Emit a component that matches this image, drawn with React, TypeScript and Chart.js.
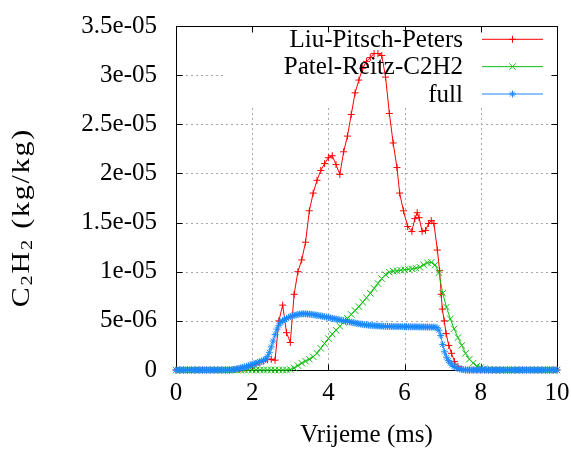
import React, { useEffect, useRef } from 'react';
import { Chart, registerables } from 'chart.js';

Chart.register(...registerables);

// ---------------- data ----------------
const xTickLabels = ['0', '2', '4', '6', '8', '10'];
const yTickLabels = ['0', '5e-06', '1e-05', '1.5e-05', '2e-05', '2.5e-05', '3e-05', '3.5e-05'];
const seriesNames = ['Liu-Pitsch-Peters', 'Patel-Reitz-C2H2', 'full'];
const xTitle = 'Vrijeme (ms)';

// time in ms; C2H2 mass fraction in units of 1e-6 kg/kg
const liuTime = [
  0, 0.1, 0.2, 0.3, 0.4, 0.5, 0.6, 0.7, 0.8, 0.9,
  1.0, 1.1, 1.2, 1.3, 1.4, 1.5, 1.6, 1.7, 1.8, 1.9,
  2.0, 2.1, 2.2, 2.3, 2.4, 2.5, 2.6, 2.7, 2.8, 2.9,
  3.0, 3.1, 3.2, 3.3, 3.4, 3.5, 3.6, 3.7, 3.8, 3.9,
  4.0, 4.1, 4.2, 4.3, 4.4, 4.5, 4.6, 4.7, 4.8, 4.9,
  5.0, 5.1, 5.2, 5.3, 5.4, 5.5, 5.6, 5.7, 5.8, 5.87,
  5.97, 6.08, 6.19, 6.27, 6.33, 6.38, 6.46, 6.55, 6.63, 6.7,
  6.77, 6.86, 6.92, 6.96, 6.99, 7.04, 7.09, 7.16, 7.23, 7.31,
  7.4, 7.5, 7.6, 7.7, 7.8, 7.9, 8.0, 8.1, 8.2, 8.3,
  8.4, 8.5, 8.6, 8.7, 8.8, 8.9, 9.0, 9.1, 9.2, 9.3,
  9.4, 9.5, 9.6, 9.7, 9.8, 9.9, 10.0,
];
const liuValue = [
  0, 0, 0, 0, 0, 0, 0, 0, 0, 0,
  0, 0, 0, 0, 0, 0.03, 0.08, 0.13, 0.2, 0.3,
  0.45, 0.6, 0.75, 0.9, 1.05, 1.1, 1.0, 5.0, 6.6, 3.8,
  2.8, 7.7, 10.0, 11.2, 13.0, 16.2, 18.0, 19.3, 20.3, 21.0,
  21.6, 21.8, 20.9, 19.9, 22.2, 23.8, 26.0, 28.2, 29.5, 30.7,
  31.4, 31.8, 32.2, 32.2, 32.0, 29.8, 26.1, 23.1, 20.6, 18.0,
  16.2, 14.6, 14.1, 15.4, 16.0, 15.5, 14.1, 14.2, 14.9, 15.2,
  14.9, 12.2, 10.1, 7.7, 6.2, 5.0, 3.7, 2.5, 1.7, 0.85,
  0.35, 0.1, 0, 0, 0, 0, 0, 0, 0, 0,
  0, 0, 0, 0, 0, 0, 0, 0, 0, 0,
  0, 0, 0, 0, 0, 0, 0,
];

const patelTime = [
  0, 0.1, 0.2, 0.3, 0.4, 0.5, 0.6, 0.7, 0.8, 0.9,
  1.0, 1.1, 1.2, 1.3, 1.4, 1.5, 1.6, 1.7, 1.8, 1.9,
  2.0, 2.1, 2.2, 2.3, 2.4, 2.5, 2.6, 2.7, 2.8, 2.9,
  3.0, 3.1, 3.2, 3.3, 3.4, 3.5, 3.6, 3.7, 3.8, 3.9,
  4.0, 4.1, 4.2, 4.3, 4.4, 4.5, 4.6, 4.7, 4.8, 4.9,
  5.0, 5.1, 5.2, 5.3, 5.4, 5.5, 5.6, 5.7, 5.8, 5.9,
  6.0, 6.1, 6.2, 6.3, 6.4, 6.5, 6.6, 6.7, 6.8, 6.9,
  7.0, 7.1, 7.2, 7.3, 7.4, 7.5, 7.6, 7.7, 7.8, 7.9,
  8.0, 8.1, 8.2, 8.3, 8.4, 8.5, 8.6, 8.7, 8.8, 8.9,
  9.0, 9.1, 9.2, 9.3, 9.4, 9.5, 9.6, 9.7, 9.8, 9.9,
  10.0,
];
const patelValue = [
  0, 0, 0, 0, 0, 0, 0, 0, 0, 0,
  0, 0, 0, 0, 0, 0, 0, 0, 0, 0,
  0, 0, 0, 0, 0, 0, 0, 0, 0, 0,
  0.05, 0.2, 0.45, 0.7, 0.9, 1.1, 1.35, 1.7, 2.2, 2.7,
  3.2, 3.65, 4.05, 4.45, 4.85, 5.25, 5.65, 6.05, 6.45, 6.9,
  7.35, 7.8, 8.3, 8.8, 9.3, 9.7, 9.95, 10.05, 10.1, 10.15,
  10.2, 10.25, 10.3, 10.35, 10.45, 10.7, 10.9, 10.95, 10.7, 9.9,
  7.8, 6.4, 5.2, 4.2, 3.3, 2.5, 1.7, 1.1, 0.7, 0.4,
  0.25, 0.12, 0.05, 0, 0, 0, 0, 0, 0, 0,
  0, 0, 0, 0, 0, 0, 0, 0, 0, 0,
  0,
];

const fullTime = [
  0, 0.05, 0.1, 0.15, 0.2, 0.25, 0.3, 0.35, 0.4, 0.45,
  0.5, 0.55, 0.6, 0.65, 0.7, 0.75, 0.8, 0.85, 0.9, 0.95,
  1, 1.05, 1.1, 1.15, 1.2, 1.25, 1.3, 1.35, 1.4, 1.45,
  1.5, 1.55, 1.6, 1.65, 1.7, 1.75, 1.8, 1.85, 1.9, 1.95,
  2, 2.05, 2.1, 2.15, 2.2, 2.25, 2.3, 2.35, 2.4, 2.45,
  2.5, 2.55, 2.6, 2.65, 2.7, 2.75, 2.8, 2.85, 2.9, 2.95,
  3, 3.05, 3.1, 3.15, 3.2, 3.25, 3.3, 3.35, 3.4, 3.45,
  3.5, 3.55, 3.6, 3.65, 3.7, 3.75, 3.8, 3.85, 3.9, 3.95,
  4, 4.05, 4.1, 4.15, 4.2, 4.25, 4.3, 4.35, 4.4, 4.45,
  4.5, 4.55, 4.6, 4.65, 4.7, 4.75, 4.8, 4.85, 4.9, 4.95,
  5, 5.05, 5.1, 5.15, 5.2, 5.25, 5.3, 5.35, 5.4, 5.45,
  5.5, 5.55, 5.6, 5.65, 5.7, 5.75, 5.8, 5.85, 5.9, 5.95,
  6, 6.05, 6.1, 6.15, 6.2, 6.25, 6.3, 6.35, 6.4, 6.45,
  6.5, 6.55, 6.6, 6.65, 6.7, 6.75, 6.8, 6.85, 6.9, 6.95,
  7, 7.05, 7.1, 7.15, 7.2, 7.25, 7.3, 7.35, 7.4, 7.45,
  7.5, 7.55, 7.6, 7.65, 7.7, 7.75, 7.8, 7.85, 7.9, 7.95,
  8, 8.05, 8.1, 8.15, 8.2, 8.25, 8.3, 8.35, 8.4, 8.45,
  8.5, 8.55, 8.6, 8.65, 8.7, 8.75, 8.8, 8.85, 8.9, 8.95,
  9, 9.05, 9.1, 9.15, 9.2, 9.25, 9.3, 9.35, 9.4, 9.45,
  9.5, 9.55, 9.6, 9.65, 9.7, 9.75, 9.8, 9.85, 9.9, 9.95,
  10,
];
const fullValue = [
  0, 0, 0, 0, 0, 0, 0, 0, 0, 0,
  0, 0, 0, 0, 0, 0, 0, 0, 0, 0,
  0, 0, 0, 0, 0, 0, 0, 0, 0, 0.02,
  0.05, 0.08, 0.12, 0.17, 0.22, 0.27, 0.32, 0.37, 0.43, 0.5,
  0.57, 0.63, 0.69, 0.76, 0.83, 0.9, 0.98, 1.1, 1.35, 1.8,
  2.35, 2.95, 3.6, 4.15, 4.55, 4.85, 5.0, 5.15, 5.25, 5.35,
  5.45, 5.5, 5.56, 5.6, 5.65, 5.69, 5.71, 5.72, 5.71, 5.7,
  5.68, 5.66, 5.63, 5.6, 5.57, 5.53, 5.5, 5.46, 5.42, 5.38,
  5.34, 5.3, 5.26, 5.22, 5.18, 5.14, 5.1, 5.06, 5.02, 4.98,
  4.94, 4.9, 4.86, 4.82, 4.78, 4.74, 4.7, 4.67, 4.64, 4.61,
  4.58, 4.56, 4.54, 4.52, 4.5, 4.49, 4.48, 4.47, 4.46, 4.45,
  4.44, 4.44, 4.43, 4.43, 4.42, 4.42, 4.42, 4.41, 4.41, 4.41,
  4.4, 4.4, 4.4, 4.4, 4.39, 4.39, 4.39, 4.39, 4.38, 4.38,
  4.38, 4.37, 4.37, 4.37, 4.36, 4.36, 4.35, 4.3, 4.05, 3.5,
  2.6, 1.85, 1.3, 0.95, 0.7, 0.5, 0.36, 0.25, 0.17, 0.11,
  0.06, 0.03, 0.01, 0, 0, 0, 0, 0, 0, 0,
  0, 0, 0, 0, 0, 0, 0, 0, 0, 0,
  0, 0, 0, 0, 0, 0, 0, 0, 0, 0,
  0, 0, 0, 0, 0, 0, 0, 0, 0, 0,
  0, 0, 0, 0, 0, 0, 0, 0, 0, 0,
  0,
];

// ---------------- styles ----------------
const FONT_FAMILY = '"Liberation Serif", "Times New Roman", serif';
const FONT_SIZE = 25;
const seriesStyles = [
  { color: '#ff0000', pointStyle: 'cross', radius: 3.5 },
  { color: '#10c010', pointStyle: 'crossRot', radius: 4.6 },
  { color: '#1a88ff', pointStyle: 'star', radius: 3.5 },
];

function drawMarker(ctx: CanvasRenderingContext2D, style: string, x: number, y: number, r: number) {
  ctx.beginPath();
  if (style === 'cross' || style === 'star') {
    ctx.moveTo(x, y - r); ctx.lineTo(x, y + r);
    ctx.moveTo(x - r, y); ctx.lineTo(x + r, y);
  }
  if (style === 'crossRot' || style === 'star') {
    const d = r * Math.SQRT1_2;
    ctx.moveTo(x - d, y - d); ctx.lineTo(x + d, y + d);
    ctx.moveTo(x + d, y - d); ctx.lineTo(x - d, y + d);
  }
  ctx.stroke();
}

const gnuplotLook = {
  id: 'gnuplotLook',
  beforeDatasetsDraw(chart: any) {
    const { ctx, chartArea: a, scales } = chart;
    const xs = scales.x;
    const ys = scales.y;
    const keyLeft = a.left + 50;
    const keyBottom = a.top + 81;
    // dotted grid, blanked behind the key
    ctx.save();
    ctx.beginPath();
    ctx.rect(a.left, a.top, a.right - a.left, a.bottom - a.top);
    ctx.rect(keyLeft, a.top, a.right - keyLeft, keyBottom - a.top);
    ctx.clip('evenodd');
    ctx.strokeStyle = '#a8a8a8';
    ctx.lineWidth = 1;
    ctx.setLineDash([2, 3]);
    ctx.beginPath();
    xs.ticks.forEach((t: any) => {
      if (t.value > xs.min && t.value < xs.max) {
        const px = Math.round(xs.getPixelForValue(t.value)) + 0.5;
        ctx.moveTo(px, a.bottom);
        ctx.lineTo(px, a.top);
      }
    });
    ys.ticks.forEach((t: any) => {
      if (t.value > ys.min && t.value < ys.max) {
        const py = Math.round(ys.getPixelForValue(t.value)) + 0.5;
        ctx.moveTo(a.left, py);
        ctx.lineTo(a.right, py);
      }
    });
    ctx.stroke();
    ctx.restore();

    // frame and inward ticks (mirrored)
    ctx.save();
    ctx.strokeStyle = '#000';
    ctx.lineWidth = 1;
    const L = Math.round(a.left) + 0.5;
    const R = Math.round(a.right) + 0.5;
    const T = Math.round(a.top) + 0.5;
    const B = Math.round(a.bottom) + 0.5;
    const tl = 6;
    ctx.beginPath();
    xs.ticks.forEach((t: any) => {
      const px = Math.round(xs.getPixelForValue(t.value)) + 0.5;
      ctx.moveTo(px, B); ctx.lineTo(px, B - tl);
      ctx.moveTo(px, T); ctx.lineTo(px, T + tl);
    });
    ys.ticks.forEach((t: any) => {
      const py = Math.round(ys.getPixelForValue(t.value)) + 0.5;
      ctx.moveTo(L, py); ctx.lineTo(L + tl, py);
      ctx.moveTo(R, py); ctx.lineTo(R - tl, py);
    });
    ctx.rect(L, T, R - L, B - T);
    ctx.stroke();
    ctx.restore();
  },
  afterDatasetsDraw(chart: any) {
    const { ctx, chartArea: a } = chart;
    ctx.save();
    ctx.font = `${FONT_SIZE}px ${FONT_FAMILY}`;
    ctx.fillStyle = '#000';
    ctx.textAlign = 'right';
    ctx.textBaseline = 'alphabetic';
    seriesNames.forEach((name, i) => {
      const st = seriesStyles[i];
      const cy = a.top + 13.3 + i * 27.35;
      ctx.fillText(name, a.left + 287, cy + 7.5);
      ctx.strokeStyle = st.color;
      ctx.lineWidth = 1;
      ctx.beginPath();
      ctx.moveTo(a.left + 306, cy);
      ctx.lineTo(a.left + 367, cy);
      ctx.stroke();
      drawMarker(ctx, st.pointStyle, a.left + 336.5, cy, st.radius);
    });
    ctx.restore();
  },
  afterDraw(chart: any) {
    const { ctx, chartArea: a } = chart;
    ctx.save();
    ctx.fillStyle = '#000';
    // x title
    ctx.font = `${FONT_SIZE}px ${FONT_FAMILY}`;
    ctx.textAlign = 'center';
    ctx.textBaseline = 'alphabetic';
    ctx.fillText(xTitle, (a.left + a.right) / 2, 442);
    // y title: C_2H_2 (kg/kg), rotated, slightly widened along its length
    const big = `${FONT_SIZE}px ${FONT_FAMILY}`;
    const small = `${Math.round(FONT_SIZE * 0.68)}px ${FONT_FAMILY}`;
    const spacing = 1.5;
    const stretch = 1.2;
    const parts: [string, boolean][] = [['C', false], ['2', true], ['H', false], ['2', true], [' (kg/kg)', false]];
    const glyphs: { ch: string; sub: boolean; w: number }[] = [];
    parts.forEach(([s, sub]) => {
      ctx.font = sub ? small : big;
      for (const ch of s) glyphs.push({ ch, sub, w: ctx.measureText(ch).width });
    });
    const total = glyphs.reduce((p, g) => p + g.w, 0) + spacing * (glyphs.length - 1);
    ctx.translate(29, 218.5);
    ctx.rotate(-Math.PI / 2);
    ctx.scale(stretch, 1);
    ctx.textAlign = 'left';
    let x = -total / 2;
    glyphs.forEach((g) => {
      ctx.font = g.sub ? small : big;
      ctx.fillText(g.ch, x, g.sub ? 3 : 0);
      x += g.w + spacing;
    });
    ctx.restore();
  },
};

export default function App() {
  const canvasRef = useRef<HTMLCanvasElement | null>(null);

  useEffect(() => {
    const canvas = canvasRef.current;
    if (!canvas) return;
    const series = [
      [liuTime, liuValue],
      [patelTime, patelValue],
      [fullTime, fullValue],
    ];
    const datasets = series.map(([t, v], i) => ({
      label: seriesNames[i],
      data: t.map((tt, k) => ({ x: tt, y: v[k] })),
      borderColor: seriesStyles[i].color,
      backgroundColor: seriesStyles[i].color,
      pointBorderColor: seriesStyles[i].color,
      pointBackgroundColor: seriesStyles[i].color,
      borderWidth: 1,
      pointBorderWidth: 1,
      pointStyle: seriesStyles[i].pointStyle,
      pointRadius: seriesStyles[i].radius,
      pointHoverRadius: seriesStyles[i].radius,
      tension: 0,
      fill: false,
      clip: false as any,
      order: 3 - i,
    }));

    const tickFont = { family: FONT_FAMILY, size: FONT_SIZE };
    const chart = new Chart(canvas, {
      type: 'line',
      data: { datasets: datasets as any },
      plugins: [gnuplotLook],
      options: {
        responsive: false,
        animation: false,
        events: [],
        layout: { padding: { left: 0, right: 14, top: 26, bottom: 0 } },
        plugins: { legend: { display: false }, tooltip: { enabled: false } },
        scales: {
          x: {
            type: 'linear',
            min: 0,
            max: 10,
            grid: { display: false, drawTicks: false },
            border: { display: false },
            ticks: {
              stepSize: 2,
              padding: 8,
              color: '#000',
              font: tickFont,
              maxRotation: 0,
              autoSkip: false,
              callback: (_v: any, i: number) => xTickLabels[i],
            },
            afterFit: (s: any) => {
              s.height = 80;
              s.paddingLeft = 0; s.paddingRight = 0; s.paddingTop = 0; s.paddingBottom = 0;
            },
          },
          y: {
            type: 'linear',
            min: 0,
            max: 35,
            grid: { display: false, drawTicks: false },
            border: { display: false },
            ticks: {
              stepSize: 5,
              padding: 19,
              color: '#000',
              font: tickFont,
              autoSkip: false,
              callback: (_v: any, i: number) => yTickLabels[i],
            },
            afterFit: (s: any) => {
              s.width = 176;
              s.paddingLeft = 0; s.paddingRight = 0; s.paddingTop = 0; s.paddingBottom = 0;
            },
          },
        },
      } as any,
    });
    return () => chart.destroy();
  }, []);

  return (
    <div style={{ position: 'absolute', left: 0, top: 0, width: 571, height: 450, background: '#fff' }}>
      <canvas ref={canvasRef} width={571} height={450} style={{ display: 'block' }} />
    </div>
  );
}
